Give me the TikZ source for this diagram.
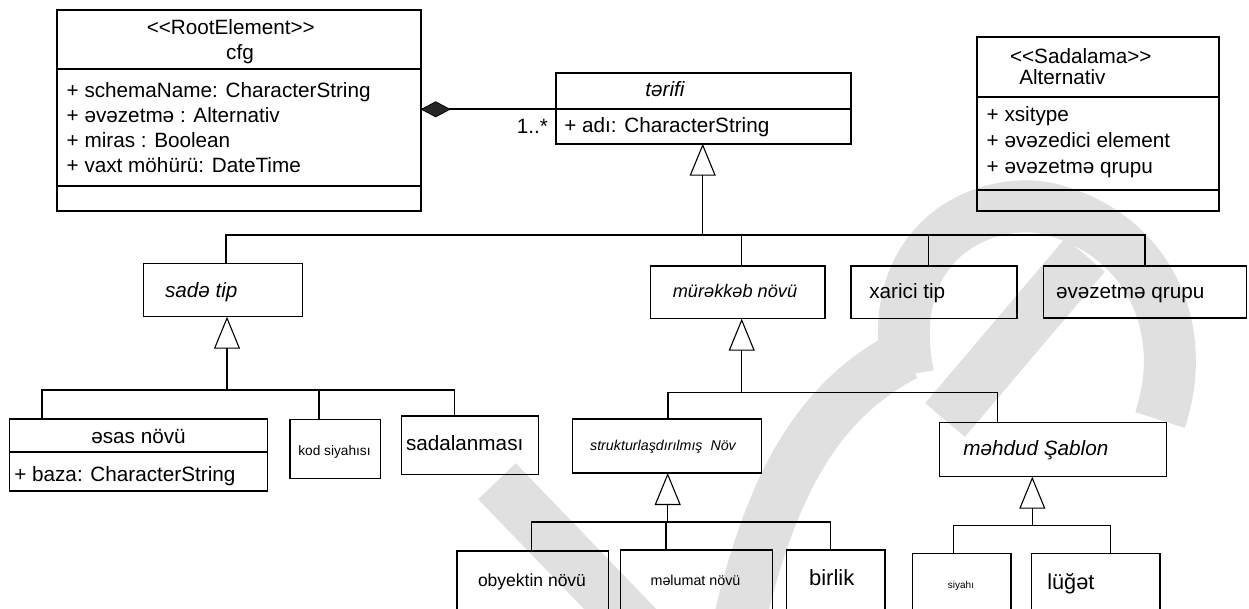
\documentclass[tikz,border=0pt]{standalone}
\usepackage{fontspec}
\setmainfont{Liberation Sans}
\usetikzlibrary{arrows.meta,calc}
\definecolor{wm}{RGB}{224,224,224}
\begin{document}
\begin{tikzpicture}[x=1pt,y=-1pt,
  every node/.style={inner sep=0pt, outer sep=0pt},
  cls/.style={draw, line width=2pt, anchor=north west},
  box/.style={draw, line width=1.3pt, anchor=north west},
  div/.style={line width=2pt},
  conn/.style={line width=1.1pt, line join=miter},
  gen/.style={line width=1.1pt, -{Triangle[open, length=32pt, width=26pt, line width=1.1pt]}},
  compo/.style={line width=1.6pt, -{Diamond[length=30pt, width=16pt, fill=black!85, line width=0.8pt]}},
  lab/.style={font=\fontsize{20.7}{25}\selectfont},
  ital/.style={font=\fontsize{20.7}{25}\selectfont\itshape},
  wmark/.style={draw=wm, line width=52pt},
]
\clip (0,0) rectangle (1249,609);
\fill[white] (0,0) rectangle (1249,609);

% ---- light grey background mark ----
\draw[wmark, line cap=rect] (515,500) -- (650,640);
\draw[wmark, line cap=butt] (735,640) .. controls (770,480) and (820,400) .. (905,355);
\draw[wmark, line cap=butt] (908,375) .. controls (880,230) and (1000,190) .. (1060,212)
      .. controls (1150,240) and (1190,330) .. (1160,420);
\draw[wmark, line cap=butt] (945,420) -- (1085,255);

% ---- class boxes with compartments ----
\node[cls, minimum width=363.4pt, minimum height=200.7pt] (cfg) at (57.3,10) {};
\draw[div] ($(cfg.north west)+(0,59.3)$) -- ($(cfg.north east)+(0,59.3)$);
\draw[div] ($(cfg.north west)+(0,175.7)$) -- ($(cfg.north east)+(0,175.7)$);
\node[lab, anchor=base] (cfgst) at (230.8,35) {<\kern0pt<RootElement>\kern0pt>};
\node[lab, anchor=base] (cfgnm) at (240,59.3) {cfg};
\node[lab, anchor=base west] (cfga1) at (66.7,98) {+ schemaName: CharacterString};
\node[lab, anchor=base west] (cfga2) at (66.7,123) {+ əvəzetmə : Alternativ};
\node[lab, anchor=base west] (cfga3) at (66.7,148) {+ miras : Boolean};
\node[lab, anchor=base west] (cfga4) at (66.7,173) {+ vaxt möhürü: DateTime};

\node[cls, minimum width=295.3pt, minimum height=70.4pt] (terifi) at (555.7,73.3) {};
\draw[div] ($(terifi.north west)+(0,35.7)$) -- ($(terifi.north east)+(0,35.7)$);
\node[ital, anchor=base] (terifinm) at (665,96.7) {tərifi};
\node[lab, anchor=base west] (terifia) at (564.3,132.7) {+ adı: CharacterString};

\node[cls, minimum width=242pt, minimum height=173.7pt] (alt) at (977.3,37.3) {};
\draw[div] ($(alt.north west)+(0,59.4)$) -- ($(alt.north east)+(0,59.4)$);
\draw[div] ($(alt.north west)+(0,152.7)$) -- ($(alt.north east)+(0,152.7)$);
\node[lab, anchor=base west] (altst) at (1010,63.3) {<\kern0pt<Sadalama>\kern0pt>};
\node[lab, anchor=base west] (altnm) at (1019.3,85) {Alternativ};
\node[lab, anchor=base west] (alta1) at (986.7,121.7) {+ xsitype};
\node[lab, anchor=base west] (alta2) at (986.7,147.7) {+ əvəzedici element};
\node[lab, anchor=base west] (alta3) at (986.7,173.7) {+ əvəzetmə qrupu};

% ---- composition ----
\coordinate (cy) at (0,109.3);
\draw[compo] (terifi.west |- cy) -- (cfg.east |- cy);
\node[lab, anchor=base east] (mult) at (548,134) {1..*};

% ---- second row ----
\node[box, minimum width=158.9pt, minimum height=53.4pt] (sade) at (143.6,263.3) {};
\node[ital, anchor=base west] (sadet) at (165,297.3) {sadə tip};
\node[box, minimum width=174.3pt, minimum height=52.7pt] (murek) at (650.7,266) {};
\node[font=\fontsize{18.2}{22}\selectfont\itshape, anchor=base] (murekt) at (735,297.7) {mürəkkəb növü};
\node[box, minimum width=166pt, minimum height=52.7pt] (xarici) at (851,266) {};
\node[lab, anchor=base west] (xaricit) at (869.3,299) {xarici tip};
\node[box, minimum width=203.4pt, minimum height=52pt] (evez) at (1043.3,266) {};
\node[lab, anchor=base west] (evezt) at (1056,299) {əvəzetmə qrupu};

% generalisation to tərifi
\coordinate (g1) at (702.7,235);
\coordinate (c1) at (226,235);
\coordinate (c2) at (741.7,235);
\coordinate (c3) at (928.3,235);
\coordinate (c4) at (1145,235);
\draw[gen] (g1) -- (g1 |- terifi.south);
\draw[conn] (c1 |- sade.north) -- (c1) -- (c4) -- (c4 |- evez.north);
\draw[conn] (c2) -- (c2 |- murek.north);
\draw[conn] (c3) -- (c3 |- xarici.north);

% ---- children of sadə tip ----
\node[box, minimum width=257.7pt, minimum height=72pt] (esas) at (9.6,419) {};
\draw[line width=1.3pt] ($(esas.north west)+(0,33)$) -- ($(esas.north east)+(0,33)$);
\node[lab, anchor=base] (esast) at (138.5,443.3) {əsas növü};
\node[lab, anchor=base west] (esasa) at (14.3,481.7) {+ baza: CharacterString};
\node[box, minimum width=90.7pt, minimum height=59pt] (kod) at (290,419.3) {};
\node[font=\fontsize{13.7}{16}\selectfont, anchor=base] (kodt) at (334.5,455) {kod siyahısı};
\node[box, minimum width=136.6pt, minimum height=58.3pt] (sadal) at (401.7,416) {};
\node[lab, anchor=base west] (sadalt) at (406,450.7) {sadalanması};

\coordinate (g2) at (227,390);
\coordinate (d1) at (42,390);
\coordinate (d2) at (319,390);
\coordinate (d3) at (454.3,390);
\draw[gen] (g2) -- (g2 |- sade.south);
\draw[conn] (d1 |- esas.north) -- (d1) -- (d3) -- (d3 |- sadal.north);
\draw[conn] (d2) -- (d2 |- kod.north);

% ---- children of mürəkkəb növü ----
\node[box, minimum width=189.4pt, minimum height=54pt] (struct) at (572.3,419) {};
\node[font=\fontsize{14.25}{17}\selectfont\itshape, anchor=base] (structt) at (663,450) {strukturlaşdırılmış \ Növ};
\node[box, minimum width=227.4pt, minimum height=54pt] (mehdud) at (939.3,422.7) {};
\node[ital, anchor=base west] (mehdudt) at (963.3,455) {məhdud Şablon};

\coordinate (g3) at (741.7,392.3);
\coordinate (e1) at (668,392.3);
\coordinate (e2) at (997.3,392.3);
\draw[gen] (g3) -- (g3 |- murek.south);
\draw[conn] (e1 |- struct.north) -- (e1) -- (e2) -- (e2 |- mehdud.north);

% ---- children of strukturlaşdırılmış Növ ----
\node[box, minimum width=151.8pt, minimum height=79pt] (obyekt) at (457,551) {};
\node[font=\fontsize{17.5}{21}\selectfont, anchor=base] (obyektt) at (532,586.7) {obyektin növü};
\node[box, minimum width=151.6pt, minimum height=80pt] (melumat) at (620.7,550) {};
\node[font=\fontsize{14.3}{17}\selectfont, anchor=base] (melumatt) at (695.5,585) {məlumat növü};
\node[box, minimum width=98.3pt, minimum height=80pt] (birlik) at (786.7,550) {};
\node[font=\fontsize{22}{26}\selectfont, anchor=base] (birlikt) at (831.7,585.7) {birlik};

\coordinate (g4) at (667.7,522);
\coordinate (f1) at (531.7,522);
\coordinate (f2) at (666,522);
\coordinate (f3) at (830.7,522);
\draw[gen] (g4) -- (g4 |- struct.south);
\draw[conn] (f1 |- obyekt.north) -- (f1) -- (f3) -- (f3 |- birlik.north);
\draw[conn] (f2) -- (f2 |- melumat.north);

% ---- children of məhdud Şablon ----
\node[box, minimum width=98.3pt, minimum height=76.7pt] (siyahi) at (912.7,553.3) {};
\node[font=\fontsize{10}{12}\selectfont, anchor=base] (siyahit) at (961,588.3) {siyahı};
\node[box, minimum width=128.3pt, minimum height=76.7pt] (luget) at (1031.7,553.3) {};
\node[font=\fontsize{21.7}{26}\selectfont, anchor=base west] (lugett) at (1047.3,589.3) {lüğət};

\coordinate (g5) at (1032.3,525.7);
\coordinate (h1) at (953.3,525.7);
\coordinate (h2) at (1110.7,525.7);
\draw[gen] (g5) -- (g5 |- mehdud.south);
\draw[conn] (h1 |- siyahi.north) -- (h1) -- (h2) -- (h2 |- luget.north);
\end{tikzpicture}
\end{document}
